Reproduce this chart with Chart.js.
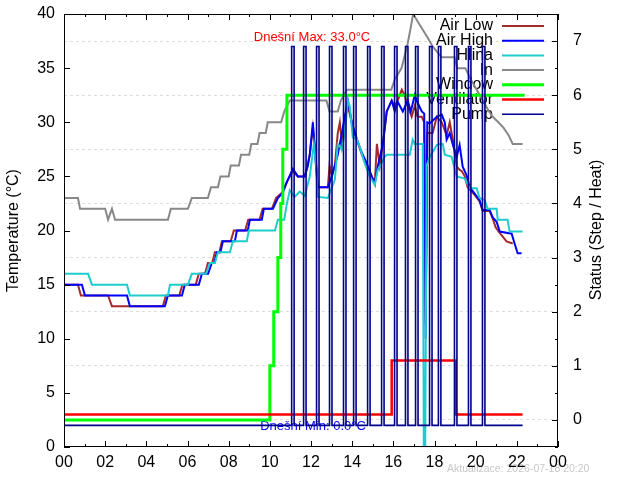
<!DOCTYPE html>
<html>
<head>
<meta charset="utf-8">
<script src="https://cdn.jsdelivr.net/npm/chart.js@4.4.1/dist/chart.umd.min.js"></script>
<style>
    body { margin: 0; background: #fff; }
    canvas { display: block; }
</style>
</head>
<body>
<canvas id="canvas" width="640" height="480"></canvas>
<script>
"use strict"

/* Data: [hour of day, value] */
let airLow = [[0,15],[0.68,15],[0.82,14],[2.14,14],[2.33,13],[4.8,13],[4.95,14],[5.6,14],[5.75,15],[6.4,15],[6.55,16],
    [6.85,16],[6.99,17],[7.2,17],[7.33,18],[7.55,18],[7.67,19],[8.1,19],[8.25,20],[8.8,20],[8.95,21],[9.5,21],[9.65,22],
    [10.1,22],[10.3,23],[10.6,23.5],[10.83,24.5],[11.12,25.5],[11.36,25],[11.7,25],[11.94,27],[12.09,29.5],[12.2,27.5],
    [12.33,24],[12.82,24],[12.9,26],[13.01,25],[13.16,26],[13.3,29],[13.4,30],[13.5,28],[13.64,30.5],[13.79,31.5],
    [13.98,30],[14.22,28.5],[14.47,27],[14.71,26],[14.95,25],[15.1,24.3],[15.2,28],[15.34,26],[15.49,28],[15.68,31],
    [15.92,32],[16.07,31.5],[16.21,32],[16.41,33],[16.55,32.5],[16.7,31.5],[16.89,30.5],[17.04,31.5],[17.18,30.5],
    [17.38,30.5],[17.5,30],[17.57,11.4],[17.65,29],[17.91,29],[18.11,30.5],[18.35,30],[18.59,28.8],[18.74,30],
    [18.88,28.5],[19.08,25.9],[19.22,25.6],[19.32,25.5],[19.47,25],[19.61,24],[19.95,23.3],[20.19,22.7],[20.34,21.8],
    [20.68,21.8],[20.83,21.1],[20.97,20.3],[21.12,19.9],[21.5,19],[21.8,18.8]];

let airHigh = [[0,15],[0.87,15],[1.02,14],[3.06,14],[3.2,13],[4.9,13],[5.05,14],[5.73,14],[5.87,15],[6.55,15],[6.7,16],
    [7.0,16],[7.18,17],[7.3,17],[7.43,18],[7.6,18],[7.72,19],[8.3,19],[8.4,20],[8.93,20],[9.03,21],[9.61,21],[9.71,22],
    [10.15,22],[10.39,23],[10.63,23.5],[10.83,24.5],[11.12,25.7],[11.36,25],[11.7,25],[11.85,26],[11.94,27],[12.09,30],
    [12.2,27],[12.33,24],[12.82,24],[13.01,25],[13.16,26],[13.3,27],[13.5,29],[13.64,30.5],[13.79,32],[13.98,30],
    [14.22,28.4],[14.47,27.2],[14.71,26.2],[14.95,25],[15.1,24.4],[15.24,25.9],[15.49,28],[15.68,31],[15.92,32],
    [16.07,31],[16.21,31.9],[16.46,31],[16.7,32],[16.85,31],[17.04,32.5],[17.18,31.8],[17.38,31],[17.5,30.8],[17.57,10],
    [17.65,30],[17.77,29.9],[18.11,30.5],[18.35,30.7],[18.5,30],[18.59,28.4],[18.74,29],[18.88,28],[19.08,26.8],
    [19.22,27.9],[19.37,25.9],[19.56,25.1],[19.71,24],[19.95,23.4],[20.19,22.8],[20.34,21.9],[20.68,21.9],[20.83,21.2],
    [21.02,20.8],[21.17,19.9],[21.75,19.7],[21.89,18.8],[22.04,17.9],[22.23,17.9]];

let hlina = [[0,16],[1.17,16],[1.36,15],[3.06,15],[3.2,14],[5.05,14],[5.15,15],[6.02,15],[6.21,16],[6.9,16],[7.09,17],
    [7.33,17],[7.48,18],[8.06,18],[8.2,19],[8.88,19],[8.98,20],[10.25,20],[10.39,21],[10.7,21],[10.83,22.5],[10.97,23.7],
    [11.2,23.1],[11.45,23.6],[11.7,23.2],[11.94,25],[12.14,28],[12.25,26],[12.33,23.1],[12.82,23],[13.16,24.7],[13.3,28],
    [13.5,27.5],[13.64,29],[13.79,32],[13.88,31.5],[14.03,28.6],[14.22,28.5],[14.37,27.7],[14.61,26.2],[14.85,25],
    [15.1,24.2],[15.24,25.6],[15.34,25.9],[15.58,26.8],[15.68,27],[16.8,27],[16.94,28.4],[17.04,28],[17.43,28],[17.48,0],
    [17.55,0],[17.62,26],[17.77,26.8],[18.11,27.9],[18.25,28],[18.4,28],[18.5,27],[18.83,26.8],[19.08,25],[19.47,24.8],
    [19.71,23.9],[20.05,23.9],[20.19,23],[20.44,22.8],[20.58,22],[21.02,22],[21.07,21],[21.55,21],[21.65,19.9],[22.28,19.9]];

let inside = [[0,23],[0.68,23],[0.78,22],[2.0,22],[2.14,21],[2.33,22],[2.48,21],[5.05,21],[5.19,22],[6.02,22],[6.21,23],
    [6.99,23],[7.14,24],[7.48,24],[7.6,25],[8.0,25],[8.1,26],[8.5,26],[8.6,27],[9.0,27],[9.1,28],[9.4,28],[9.5,29],
    [9.8,29],[9.9,30],[10.55,30],[10.7,31],[10.97,32],[12.75,32],[12.9,31],[13.3,31],[13.45,32],[13.75,33],[15.9,33],
    [16.08,34],[16.4,35],[16.7,37.3],[16.89,39.2],[16.96,40],[17.28,39],[17.67,37.8],[17.91,37],[18.35,36],[18.98,36],
    [19.1,35],[19.5,35],[19.75,34],[20.05,33],[20.35,32],[20.65,31],[20.83,30.5],[21.1,30],[21.35,29.5],[21.6,28.8],
    [21.8,28],[22.28,28]];

let windowPos = [[0,0],[10.0,1],[10.19,2],[10.39,3],[10.53,4],[10.63,5],[10.83,6],[22.38,6]];

let ventilator = [[0,0.1],[15.92,1.1],[19.03,0.1],[22.28,0.1]];

let pumpOn  = [11.06, 11.64, 12.27, 12.90, 13.58, 14.07, 14.75, 15.43, 16.06, 16.59, 17.08, 17.76, 18.19, 18.97, 19.65, 20.33];
let pumpOff = [11.18, 11.76, 12.39, 13.02, 13.70, 14.19, 14.87, 15.55, 16.18, 16.71, 17.20, 17.88, 18.31, 19.09, 19.77, 20.45];
let pumpLow = -0.1;
let pumpHigh = 6.9;
let pumpEnd = 22.28;

let hourLabels = ["00", "02", "04", "06", "08", "10", "12", "14", "16", "18", "20", "22", "00"];
let statusTicks = [0, 1, 2, 3, 4, 5, 6, 7];

let maxNote = "Dnešní Max: 33.0°C";
let minNote = "Dnešní Min: 0.0°C";
let updated = "Aktualizace: 2026-07-18 20:20";


function points(list) {
    return list.map(p => ({ x: p[0], y: p[1] }));
}

function pumpSeries() {
    let out = [{ x: 0, y: pumpLow }];
    pumpOn.forEach((t, i) => {
        out.push({ x: t, y: pumpHigh });
        out.push({ x: pumpOff[i], y: pumpLow });
    });
    out.push({ x: pumpEnd, y: pumpLow });
    return out;
}

// fixed box sizes, no extra label padding, so the plot frame sits where gnuplot put it
function fixBox(size) {
    return s => {
        if (s.isHorizontal()) s.height = size; else s.width = size;
        s.paddingTop = 0;
        s.paddingBottom = 0;
        s.paddingLeft = 0;
        s.paddingRight = 0;
    };
}


const font = '"Liberation Sans", Arial, sans-serif';

const gnuplotLook = {
    id: "gnuplotLook",
    beforeDraw(chart) {
        const c = chart.ctx;
        c.save();
        c.fillStyle = "#fff";
        c.fillRect(0, 0, chart.width, chart.height);
        c.font = "10.5px " + font;
        c.fillStyle = "#c8c8c8";
        c.textAlign = "left";
        c.textBaseline = "middle";
        c.fillText(updated, 447, 469);
        c.restore();
    },
    beforeDatasetsDraw(chart) {
        const c = chart.ctx;
        c.save();
        // key
        c.font = "16px " + font;
        c.textAlign = "right";
        c.textBaseline = "middle";
        chart.data.datasets.forEach((ds, i) => {
            let y = 26 + i * 14.7;
            c.fillStyle = "#000";
            c.fillText(ds.label, 493, y);
            c.strokeStyle = ds.borderColor;
            c.lineWidth = ds.borderWidth;
            c.beginPath();
            c.moveTo(502, y);
            c.lineTo(544, y);
            c.stroke();
        });
        // notes
        c.font = "13px " + font;
        c.textAlign = "center";
        c.fillStyle = "#ff0000";
        c.fillText(maxNote, 312, 37);
        c.fillStyle = "#0000ff";
        c.fillText(minNote, 313, 426);
        // y2 title
        c.font = "16px " + font;
        c.fillStyle = "#000";
        c.translate(597, 230);
        c.rotate(-Math.PI / 2);
        c.fillText("Status (Step / Heat)", 0, 0);
        c.restore();
    },
    afterDatasetsDraw(chart) {
        const c = chart.ctx;
        const a = chart.chartArea;
        const sx = chart.scales.x, sy = chart.scales.y, s2 = chart.scales.y2;
        c.save();
        c.strokeStyle = "#000";
        c.lineWidth = 1;
        c.beginPath();
        for (let h = 0; h <= 24; h++) {
            let px = Math.round(sx.getPixelForValue(h)) + 0.5;
            let len = h % 2 ? 3 : 6;
            c.moveTo(px, a.bottom); c.lineTo(px, a.bottom - len);
            c.moveTo(px, a.top); c.lineTo(px, a.top + len);
        }
        for (let t = 0; t <= 40; t += 5) {
            let py = Math.round(sy.getPixelForValue(t)) + 0.5;
            c.moveTo(a.left, py); c.lineTo(a.left + 6, py);
        }
        for (let s = -0.5; s <= 7.5; s += 0.5) {
            let py = Math.round(s2.getPixelForValue(s)) + 0.5;
            let len = Number.isInteger(s) ? 6 : 3;
            c.moveTo(a.right, py); c.lineTo(a.right - len, py);
        }
        c.stroke();
        c.strokeRect(a.left + 0.5, a.top + 0.5, a.right - a.left - 1, a.bottom - a.top - 1);
        c.restore();
    }
};


function createChart() {
    const ctx = document.getElementById("canvas").getContext("2d");
    const tickFont = { family: font, size: 16 };
    new Chart(ctx, {
        type: "line",
        data: {
            datasets: [
                { label: "Air Low", data: points(airLow), borderColor: "#a52a2a", borderWidth: 2, yAxisID: "y", order: 7 },
                { label: "Air High", data: points(airHigh), borderColor: "#0000ff", borderWidth: 2, yAxisID: "y", order: 6 },
                { label: "Hlina", data: points(hlina), borderColor: "#1ecccc", borderWidth: 2, yAxisID: "y", order: 5 },
                { label: "In", data: points(inside), borderColor: "#888888", borderWidth: 2, yAxisID: "y", order: 4 },
                { label: "Window", data: points(windowPos), borderColor: "#00ff00", borderWidth: 3, stepped: true, yAxisID: "y2", order: 3 },
                { label: "Ventilator", data: points(ventilator), borderColor: "#ff0000", borderWidth: 2.5, stepped: true, yAxisID: "y2", order: 2 },
                { label: "Pump", data: pumpSeries(), borderColor: "#00008b", borderWidth: 1.6, stepped: true, yAxisID: "y2", order: 1 },
            ]
        },
        options: {
            responsive: false,
            animation: false,
            devicePixelRatio: 1,
            layout: { padding: { top: 14 } },
            elements: {
                point: { radius: 0 },
                line: { tension: 0, borderJoinStyle: "miter", borderCapStyle: "butt" }
            },
            plugins: {
                legend: { display: false },
                tooltip: { enabled: false }
            },
            scales: {
                x: {
                    type: "linear",
                    min: 0,
                    max: 24,
                    grid: { display: false, drawTicks: false },
                    border: { display: false },
                    ticks: {
                        stepSize: 2,
                        autoSkip: false,
                        maxRotation: 0,
                        padding: 6,
                        color: "#000",
                        font: tickFont,
                        callback: (v, i) => hourLabels[i]
                    },
                    afterFit: fixBox(33)
                },
                y: {
                    position: "left",
                    min: 0,
                    max: 40,
                    grid: { display: false, drawTicks: false },
                    border: { display: false },
                    ticks: { stepSize: 5, padding: 9, color: "#000", font: tickFont },
                    title: {
                        display: true,
                        text: "Temperature (°C)",
                        color: "#000",
                        font: tickFont,
                        padding: { top: 4, bottom: 0 }
                    },
                    afterFit: fixBox(64)
                },
                y2: {
                    position: "right",
                    min: -0.5,
                    max: 7.5,
                    afterBuildTicks: s => { s.ticks = statusTicks.map(v => ({ value: v })); },
                    grid: { drawOnChartArea: true, drawTicks: false, color: "#dddddd" },
                    border: { display: false, dash: [3, 3] },
                    ticks: { padding: 15, color: "#000", font: tickFont },
                    afterFit: fixBox(82)
                }
            }
        },
        plugins: [gnuplotLook]
    });
}

createChart();
</script>
</body>
</html>
